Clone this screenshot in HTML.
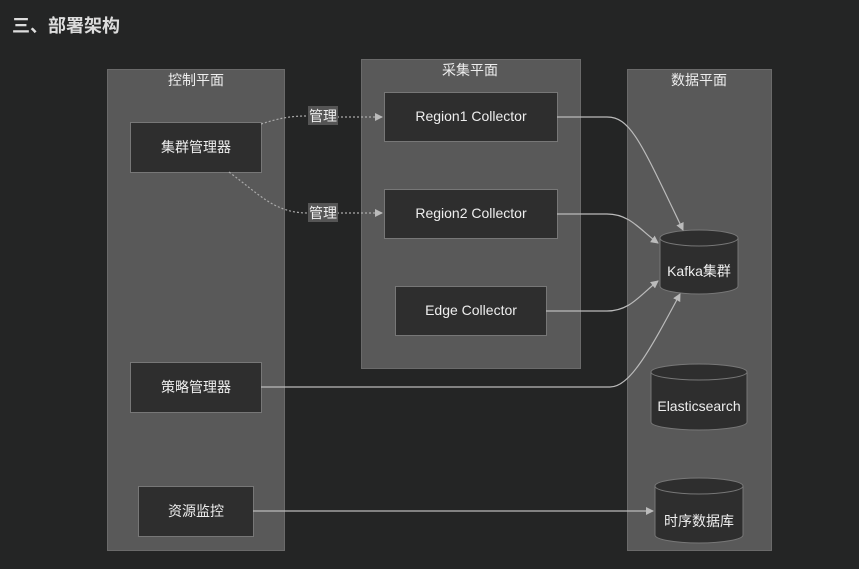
<!DOCTYPE html>
<html><head><meta charset="utf-8"><style>
body{margin:0;background:#242525;width:859px;height:564px;overflow:hidden}
svg text{font-family:"Liberation Sans","Noto Sans CJK SC",sans-serif;fill:#eee}
</style></head><body>
<svg width="859" height="564" viewBox="0 0 859 564">
<defs><marker id="a" markerWidth="8" markerHeight="8" refX="7" refY="4" orient="auto" markerUnits="userSpaceOnUse"><path d="M0,0 L8,4 L0,8z" fill="#bbb"/></marker></defs>
<text x="12" y="32" font-size="18" font-weight="bold" fill="#ddd" style="fill:#ddd">三、部署架构</text>
<g fill="#595959" stroke="#6a6a6a">
<rect x="107.5" y="69.5" width="177" height="481"/>
<rect x="361.5" y="59.5" width="219" height="309"/>
<rect x="627.5" y="69.5" width="144" height="481"/>
</g>
<g font-size="14" text-anchor="middle">
<text x="196" y="85">控制平面</text>
<text x="470" y="75">采集平面</text>
<text x="699" y="85">数据平面</text>
</g>
<g fill="#2e2e2e" stroke="#777">
<rect x="130.5" y="122.5" width="131" height="50"/>
<rect x="384.5" y="92.5" width="173" height="49"/>
<rect x="384.5" y="189.5" width="173" height="49"/>
<rect x="395.5" y="286.5" width="151" height="49"/>
<rect x="130.5" y="362.5" width="131" height="50"/>
<rect x="138.5" y="486.5" width="115" height="50"/>
<path d="M660,238 v48 a39,8 0 0 0 78,0 v-48 a39,8 0 0 0 -78,0 a39,8 0 0 0 78,0"/>
<path d="M651,372 v50 a48,8 0 0 0 96,0 v-50 a48,8 0 0 0 -96,0 a48,8 0 0 0 96,0"/>
<path d="M655,486 v49 a44,8 0 0 0 88,0 v-49 a44,8 0 0 0 -88,0 a44,8 0 0 0 88,0"/>
</g>
<g font-size="14" text-anchor="middle">
<text x="196" y="152">集群管理器</text>
<text x="471" y="121">Region1 Collector</text>
<text x="471" y="218">Region2 Collector</text>
<text x="471" y="315">Edge Collector</text>
<text x="196" y="392">策略管理器</text>
<text x="196" y="516">资源监控</text>
<text x="699" y="276">Kafka集群</text>
<text x="699" y="411">Elasticsearch</text>
<text x="699" y="526">时序数据库</text>
</g>
<g fill="none" stroke="#aaa" stroke-width="1.2" stroke-dasharray="2,2">
<path d="M261,124 C280,118 290,116 308,116"/>
<path d="M337,117 L382,117" marker-end="url(#a)"/>
<path d="M229,172 C260,195 275,213 308,213"/>
<path d="M337,213 L382,213" marker-end="url(#a)"/>
</g>
<rect x="308" y="106" width="30" height="19" fill="#555"/>
<rect x="308" y="203" width="30" height="19" fill="#555"/>
<text x="323" y="121" font-size="14" text-anchor="middle">管理</text>
<text x="323" y="218" font-size="14" text-anchor="middle">管理</text>
<g fill="none" stroke="#bbb" stroke-width="1.2" marker-end="url(#a)">
<path d="M557,117 L607,117 C630,117 640,140 683,230"/>
<path d="M557,214 L607,214 C630,214 640,230 658,243"/>
<path d="M546,311 L607,311 C630,311 640,295 658,281"/>
<path d="M261,387 L610,387 C630,387 650,350 680,294"/>
<path d="M253,511 L653,511"/>
</g>
</svg>
</body></html>
